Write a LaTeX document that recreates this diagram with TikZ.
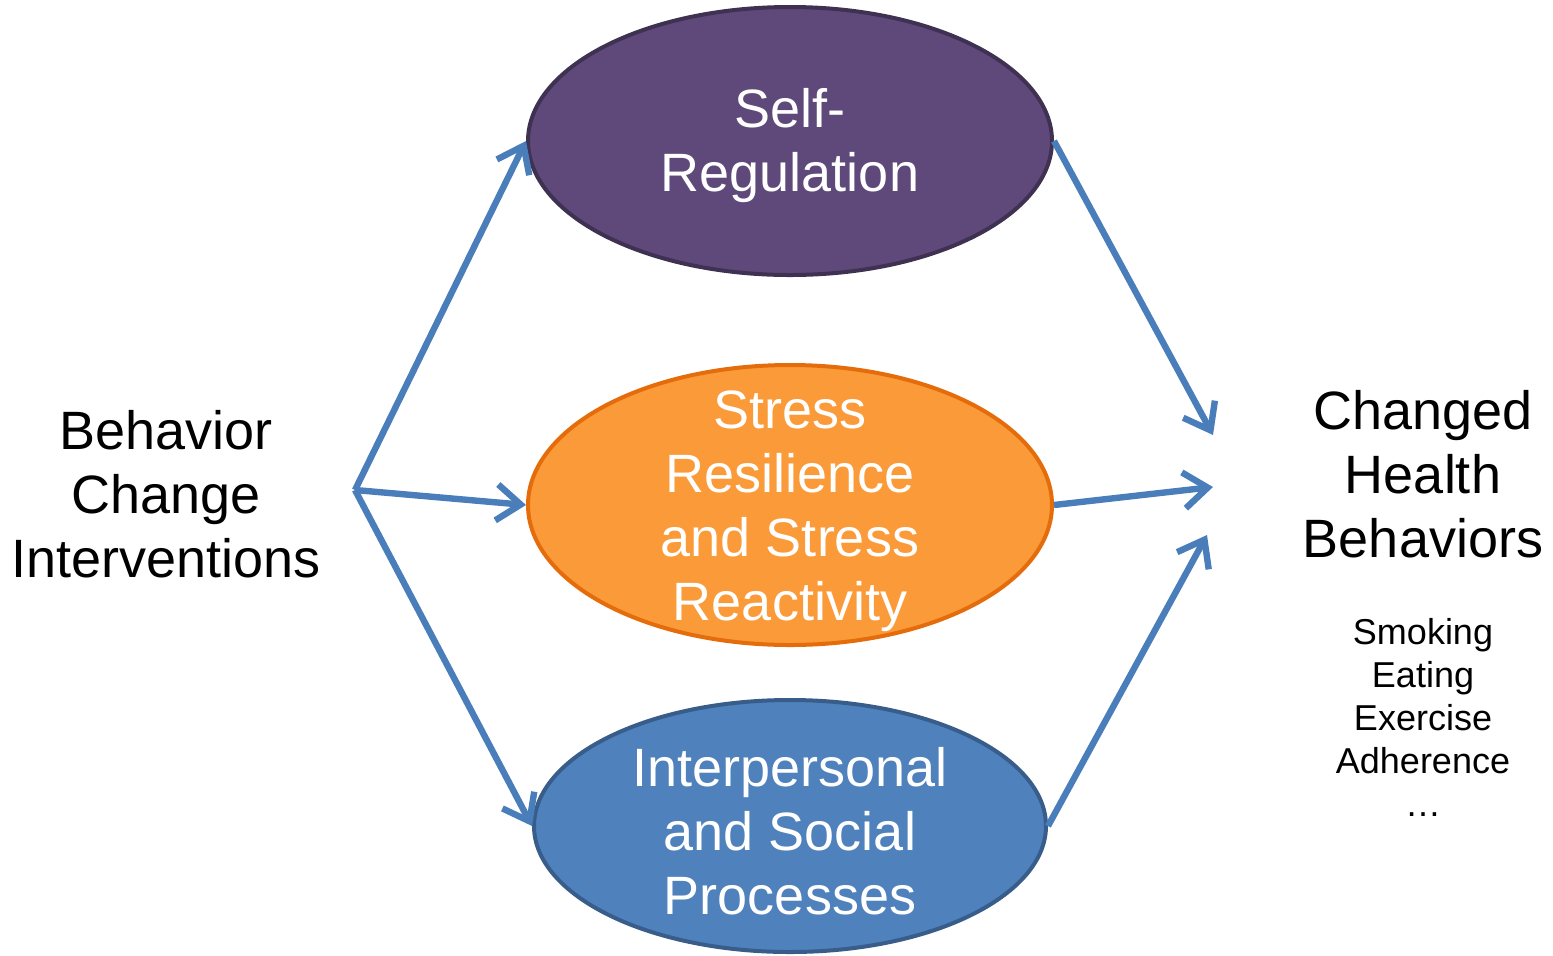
\documentclass[tikz,border=0pt]{standalone}
\usepackage{fontspec}
\setmainfont{Liberation Sans}
\usetikzlibrary{arrows.meta,shapes.geometric}
\definecolor{purpfill}{HTML}{5F497A}
\definecolor{purpdraw}{HTML}{3F3151}
\definecolor{orfill}{HTML}{FB9A38}
\definecolor{ordraw}{HTML}{E46C0A}
\definecolor{blfill}{HTML}{4F81BD}
\definecolor{bldraw}{HTML}{385D8A}
\definecolor{arrcol}{HTML}{4A7EBB}
\tikzset{
  oval/.style={ellipse, line width=2pt, inner sep=0pt},
  lbl/.style={align=center, font=\fontsize{27}{32}\selectfont, inner sep=0pt},
  small/.style={align=center, font=\fontsize{18}{21.5}\selectfont, inner sep=0pt},
  conn/.style={draw=arrcol, line width=3.2pt, -{Straight Barb[length=12pt,width=18pt,line width=3.2pt]}}
}
\begin{document}
\begin{tikzpicture}[x=0.5pt,y=-0.5pt]
\useasboundingbox (0,0) rectangle (1553,955);
\node[oval, fill=purpfill, draw=purpdraw, minimum width=262pt, minimum height=134pt] (sr) at (790,141) {};
\node[lbl, text=white] (srt) at (790,146) {Self-\\Regulation};
\node[oval, fill=orfill, draw=ordraw, minimum width=262pt, minimum height=140pt] (st) at (790,505) {};
\node[lbl, text=white] (stt) at (790,511) {Stress\\Resilience\\and Stress\\Reactivity};
\node[oval, fill=blfill, draw=bldraw, minimum width=256pt, minimum height=126pt] (ip) at (790,826) {};
\node[lbl, text=white] (ipt) at (790,831) {Interpersonal\\and Social\\Processes};
\node[lbl] (bci) at (166,494) {Behavior\\Change\\Interventions};
\node[lbl] (chb) at (1423,474) {Changed\\Health\\Behaviors};
\node[small] (lst) at (1423,717) {Smoking\\Eating\\Exercise\\Adherence\\\dots};
\coordinate (src) at (355,490);
\coordinate (t1) at (1213,435);
\coordinate (t2) at (1213,487);
\coordinate (t3) at (1207,535);
\draw[conn] (src) -- (sr.west);
\draw[conn] (src) -- (st.west);
\draw[conn] (src) -- (ip.west);
\draw[conn] (sr.east) -- (t1);
\draw[conn] (st.east) -- (t2);
\draw[conn] (ip.east) -- (t3);
\end{tikzpicture}
\end{document}
